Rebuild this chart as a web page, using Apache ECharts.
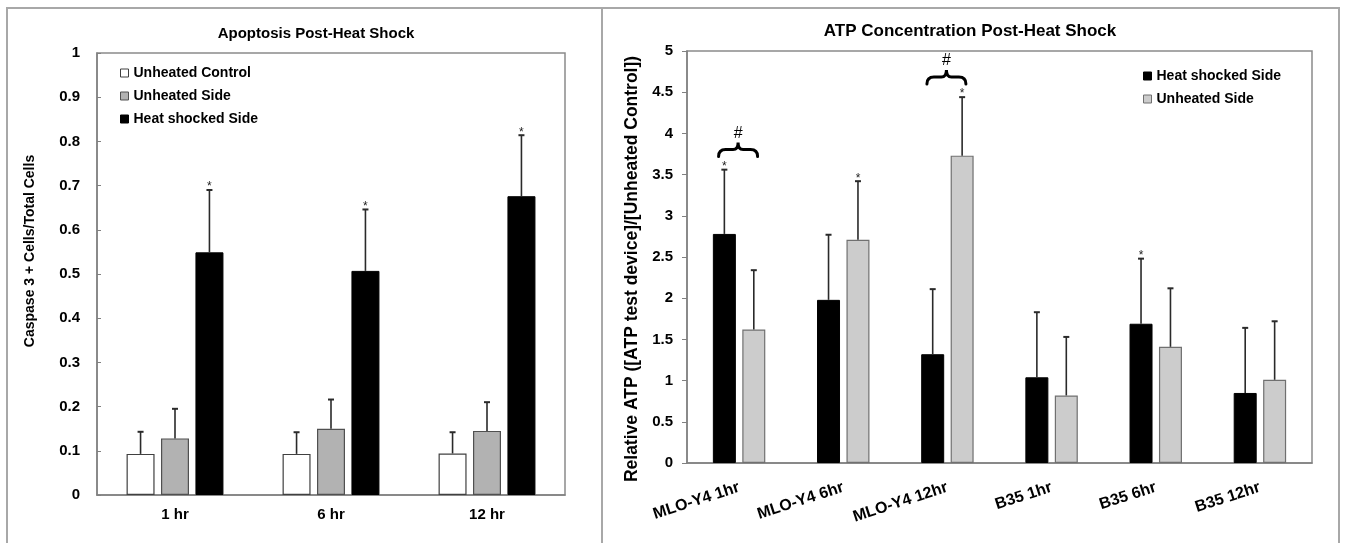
<!DOCTYPE html>
<html>
<head>
<meta charset="utf-8">
<script src="https://cdn.jsdelivr.net/npm/echarts@6/dist/echarts.min.js"></script>
<style>
html,body{margin:0;padding:0;background:#fff;}
#c{width:1347px;height:543px;}
</style>
</head>
<body>
<div id="c"></div>
<script>
// ---------- Left chart: Apoptosis ----------
const leftCategories = ['1 hr', '6 hr', '12 hr'];
const leftControl = [0.093, 0.093, 0.094];
const leftControlSD = [0.050, 0.049, 0.048];
const leftUnheated = [0.128, 0.150, 0.145];
const leftUnheatedSD = [0.067, 0.066, 0.065];
const leftHeat = [0.549, 0.507, 0.676];
const leftHeatSD = [0.141, 0.139, 0.138];
const leftControlSig = [0, 0, 0];
const leftUnheatedSig = [0, 0, 0];
const leftHeatSig = [1, 1, 1];
const leftYMin = 0, leftYMax = 1, leftYInterval = 0.1;

// ---------- Right chart: ATP ----------
const rightCategories = ['MLO-Y4 1hr', 'MLO-Y4 6hr', 'MLO-Y4 12hr', 'B35 1hr', 'B35 6hr', 'B35 12hr'];
const rightHeat = [2.78, 1.98, 1.32, 1.04, 1.69, 0.85];
const rightHeatSD = [0.78, 0.79, 0.79, 0.79, 0.79, 0.79];
const rightUnheated = [1.62, 2.71, 3.73, 0.82, 1.41, 1.01];
const rightUnheatedSD = [0.72, 0.71, 0.71, 0.71, 0.71, 0.71];
const rightHeatSig = [1, 0, 0, 0, 1, 0];
const rightUnheatedSig = [0, 1, 1, 0, 0, 0];
const braceCategories = [0, 2];
const braceLevels = [3.72, 4.60];
const rightYMin = 0, rightYMax = 5, rightYInterval = 0.5;

const FONT = 'Liberation Sans, Arial, sans-serif';
const LBW = 28, LGAP = 0.23;   // left bar width / gap ratio
const RBW = 23, RGAP = 0.28;   // right bar width / gap ratio

function errorSeries(id, xi, means, sds, sig, offset) {
  return {
    type: 'custom', id: id, xAxisIndex: xi, yAxisIndex: xi, silent: true, z: 5,
    data: means.map((m, i) => [i, m, m + sds[i], sig[i]]),
    encode: { x: 0, y: [1, 2] },
    renderItem: function (params, api) {
      const c0 = api.coord([api.value(0), api.value(1)]);
      const c1 = api.coord([api.value(0), api.value(2)]);
      const x = c0[0] + offset;
      const ch = [
        { type: 'line', shape: { x1: x, y1: c0[1], x2: x, y2: c1[1] }, style: { stroke: '#2a2a2a', lineWidth: 1.6 } },
        { type: 'line', shape: { x1: x - 3, y1: c1[1], x2: x + 3, y2: c1[1] }, style: { stroke: '#2a2a2a', lineWidth: 2 } }
      ];
      if (api.value(3)) {
        ch.push({ type: 'text', x: x, y: c1[1] + 3, style: { text: '*', align: 'center', verticalAlign: 'bottom', font: '12px ' + FONT, fill: '#222' } });
      }
      return { type: 'group', children: ch };
    }
  };
}

const lOff = LBW * (1 + LGAP);
const rOff = RBW * (1 + RGAP) / 2;

const axisLineStyle = { color: '#808080', width: 1.5 };

const option = {
  backgroundColor: '#fff',
  animation: false,
  graphic: [
    // panel frames
    { type: 'polyline', shape: { points: [[7, 543], [7, 8], [601, 8]] }, style: { stroke: '#a8a8a8', lineWidth: 2, fill: null } },
    { type: 'polyline', shape: { points: [[602, 543], [602, 8], [1339, 8], [1339, 543]] }, style: { stroke: '#a8a8a8', lineWidth: 2, fill: null } },
    // titles
    { type: 'text', x: 316, y: 34, style: { text: 'Apoptosis Post-Heat Shock', align: 'center', verticalAlign: 'middle', font: 'bold 15px ' + FONT, fill: '#000' } },
    { type: 'text', x: 970, y: 31, style: { text: 'ATP Concentration Post-Heat Shock', align: 'center', verticalAlign: 'middle', font: 'bold 17px ' + FONT, fill: '#000' } },
    // y-axis titles
    { type: 'text', x: 30, y: 251, rotation: Math.PI / 2, style: { text: 'Caspase 3 + Cells/Total Cells', align: 'center', verticalAlign: 'middle', font: 'bold 14px ' + FONT, fill: '#000' } },
    { type: 'text', x: 632, y: 269, rotation: Math.PI / 2, style: { text: 'Relative ATP ([ATP test device]/[Unheated Control])', align: 'center', verticalAlign: 'middle', font: 'bold 17.5px ' + FONT, fill: '#000' } }
  ],
  legend: [
    {
      orient: 'vertical', left: 120, top: 66, padding: 0, itemWidth: 8, itemHeight: 8, itemGap: 9,
      textStyle: { fontFamily: FONT, fontWeight: 'bold', fontSize: 14, color: '#000' },
      data: [
        { name: 'Unheated Control', icon: 'rect', itemStyle: { color: '#fff', borderColor: '#404040', borderWidth: 1 } },
        { name: 'Unheated Side', icon: 'rect', itemStyle: { color: '#b2b2b2', borderColor: '#505050', borderWidth: 1 } },
        { name: 'Heat shocked Side', icon: 'rect', itemStyle: { color: '#000', borderColor: '#000', borderWidth: 1 } }
      ]
    },
    {
      orient: 'vertical', left: 1143, top: 69, padding: 0, itemWidth: 8, itemHeight: 8, itemGap: 9,
      textStyle: { fontFamily: FONT, fontWeight: 'bold', fontSize: 14, color: '#000' },
      formatter: n => n.replace('ATP: ', ''),
      data: [
        { name: 'ATP: Heat shocked Side', icon: 'rect', itemStyle: { color: '#000', borderColor: '#000', borderWidth: 1 } },
        { name: 'ATP: Unheated Side', icon: 'rect', itemStyle: { color: '#cccccc', borderColor: '#707070', borderWidth: 1 } }
      ]
    }
  ],
  grid: [
    { left: 97, top: 53, width: 468, height: 442, show: true, borderColor: '#8a8a8a', borderWidth: 1.5, backgroundColor: 'transparent' },
    { left: 687, top: 51, width: 625, height: 412, show: true, borderColor: '#8a8a8a', borderWidth: 1.5, backgroundColor: 'transparent' }
  ],
  xAxis: [
    {
      type: 'category', gridIndex: 0, data: leftCategories,
      axisLine: { lineStyle: axisLineStyle }, axisTick: { show: false },
      axisLabel: { margin: 12, fontFamily: FONT, fontWeight: 'bold', fontSize: 15, color: '#000' }
    },
    {
      type: 'category', gridIndex: 1, data: rightCategories,
      axisLine: { lineStyle: axisLineStyle }, axisTick: { show: false },
      axisLabel: { margin: 24, rotate: 18, interval: 0, fontFamily: FONT, fontWeight: 'bold', fontSize: 16, color: '#000' }
    }
  ],
  yAxis: [
    {
      type: 'value', gridIndex: 0, min: leftYMin, max: leftYMax, interval: leftYInterval,
      splitLine: { show: false },
      axisLine: { show: true, lineStyle: axisLineStyle },
      axisTick: { show: true, inside: true, length: 4, lineStyle: { color: '#808080' } },
      axisLabel: { margin: 17, fontFamily: FONT, fontWeight: 'bold', fontSize: 15, color: '#000' }
    },
    {
      type: 'value', gridIndex: 1, min: rightYMin, max: rightYMax, interval: rightYInterval,
      splitLine: { show: false },
      axisLine: { show: true, lineStyle: axisLineStyle },
      axisTick: { show: true, inside: false, length: 5, lineStyle: { color: '#808080' } },
      axisLabel: { margin: 14, fontFamily: FONT, fontWeight: 'bold', fontSize: 15, color: '#000' }
    }
  ],
  series: [
    { name: 'Unheated Control', type: 'bar', xAxisIndex: 0, yAxisIndex: 0, data: leftControl, barWidth: LBW, barGap: (LGAP * 100) + '%',
      itemStyle: { color: '#fff', borderColor: '#404040', borderWidth: 1.2 } },
    { name: 'Unheated Side', type: 'bar', xAxisIndex: 0, yAxisIndex: 0, data: leftUnheated, barWidth: LBW, barGap: (LGAP * 100) + '%',
      itemStyle: { color: '#b2b2b2', borderColor: '#505050', borderWidth: 1.2 } },
    { name: 'Heat shocked Side', type: 'bar', xAxisIndex: 0, yAxisIndex: 0, data: leftHeat, barWidth: LBW, barGap: (LGAP * 100) + '%',
      itemStyle: { color: '#000', borderColor: '#000', borderWidth: 1 } },
    errorSeries('eL0', 0, leftControl, leftControlSD, leftControlSig, -lOff),
    errorSeries('eL1', 0, leftUnheated, leftUnheatedSD, leftUnheatedSig, 0),
    errorSeries('eL2', 0, leftHeat, leftHeatSD, leftHeatSig, lOff),

    { name: 'ATP: Heat shocked Side', type: 'bar', xAxisIndex: 1, yAxisIndex: 1, data: rightHeat, barWidth: RBW, barGap: (RGAP * 100) + '%',
      itemStyle: { color: '#000', borderColor: '#000', borderWidth: 1 } },
    { name: 'ATP: Unheated Side', type: 'bar', xAxisIndex: 1, yAxisIndex: 1, data: rightUnheated, barWidth: RBW, barGap: (RGAP * 100) + '%',
      itemStyle: { color: '#cccccc', borderColor: '#707070', borderWidth: 1.2 } },
    errorSeries('eR0', 1, rightHeat, rightHeatSD, rightHeatSig, -rOff),
    errorSeries('eR1', 1, rightUnheated, rightUnheatedSD, rightUnheatedSig, rOff),
    {
      type: 'custom', id: 'braces', xAxisIndex: 1, yAxisIndex: 1, silent: true, z: 6,
      data: braceCategories.map((c, i) => [c, braceLevels[i]]),
      renderItem: function (params, api) {
        const p = api.coord([api.value(0), api.value(1)]);
        const cx = p[0] - 1, yb = p[1], h = 19.5, yt = yb - 7, yp = yb - 14;
        const d = 'M' + (cx - h) + ' ' + yb + ' Q' + (cx - h) + ' ' + yt + ' ' + (cx - h + 7) + ' ' + yt +
          ' L' + (cx - 5) + ' ' + yt + ' Q' + cx + ' ' + yt + ' ' + cx + ' ' + yp +
          ' Q' + cx + ' ' + yt + ' ' + (cx + 5) + ' ' + yt +
          ' L' + (cx + h - 7) + ' ' + yt + ' Q' + (cx + h) + ' ' + yt + ' ' + (cx + h) + ' ' + yb;
        return {
          type: 'group', children: [
            { type: 'path', shape: { pathData: d }, style: { stroke: '#000', fill: 'none', lineWidth: 3, lineCap: 'round' } },
            { type: 'text', x: cx, y: yp - 1, style: { text: '#', align: 'center', verticalAlign: 'bottom', font: '16px ' + FONT, fill: '#000' } }
          ]
        };
      }
    }
  ]
};

const chart = echarts.init(document.getElementById('c'), null, { renderer: 'canvas' });
chart.setOption(option);
</script>
</body>
</html>
